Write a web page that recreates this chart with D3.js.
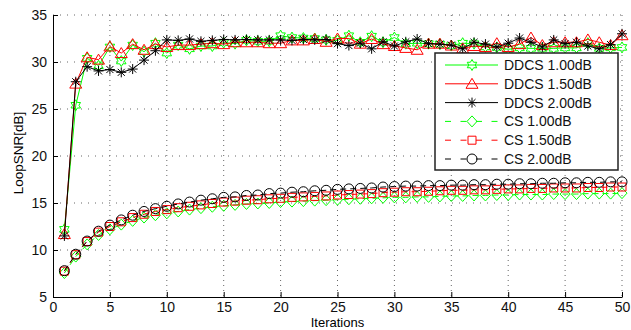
<!DOCTYPE html>
<html>
<head>
<meta charset="utf-8">
<script src="https://d3js.org/d3.v7.min.js"></script>
<style>
  body { margin: 0; background: #fff; }
  text { font-family: "Liberation Sans", Arial, sans-serif; }
</style>
</head>
<body>
<script>
var iterations = d3.range(1, 51);

var ddcs100 = [12.2, 25.4, 30.4, 29.6, 31.6, 30.1, 31.8, 31.1, 32.0, 30.95,
               31.8, 31.4, 31.7, 31.7, 32.05, 31.95, 32.3, 32.2, 32.2, 32.8,
               32.6, 32.55, 32.5, 32.35, 32.3, 32.8, 32.1, 32.75, 32.1, 32.6,
               31.95, 32.0, 31.95, 31.9, 31.75, 32.0, 31.95, 31.6, 31.55, 31.35,
               31.5, 31.45, 31.45, 31.45, 31.5, 31.5, 32.0, 31.45, 31.5, 31.55];
var ddcs150 = [11.7, 27.7, 30.5, 30.25, 31.65, 30.95, 31.9, 31.3, 31.9, 31.6,
               31.8, 31.8, 31.9, 32.0, 31.9, 32.1, 32.1, 32.1, 32.0, 32.0,
               32.3, 32.3, 32.45, 32.15, 32.5, 32.5, 31.95, 32.45, 31.9, 31.7,
               31.5, 31.3, 31.95, 31.95, 31.75, 31.45, 31.7, 31.6, 32.0, 31.6,
               31.9, 32.6, 31.8, 32.1, 32.1, 32.1, 32.4, 32.1, 31.8, 32.85];
var ddcs200 = [11.5, 27.9, 29.5, 29.05, 29.2, 28.9, 29.25, 30.2, 31.2, 32.35,
               32.3, 32.45, 32.2, 32.3, 32.4, 32.35, 32.4, 32.35, 32.35, 32.35,
               32.3, 32.4, 32.35, 32.4, 31.95, 31.75, 32.0, 31.4, 32.15, 31.7,
               32.15, 32.45, 31.95, 31.9, 31.8, 31.4, 32.1, 31.9, 31.6, 32.0,
               32.55, 32.1, 31.6, 32.35, 31.95, 32.1, 31.7, 31.4, 31.85, 33.0];
var cs100 = [7.55, 9.3, 10.6, 11.6, 12.2, 12.7, 13.1, 13.45, 13.7, 13.9,
             14.1, 14.3, 14.45, 14.6, 14.7, 14.8, 14.9, 14.95, 15.0, 15.1,
             15.15, 15.2, 15.25, 15.3, 15.35, 15.4, 15.45, 15.5, 15.55, 15.6,
             15.6, 15.65, 15.65, 15.7, 15.75, 15.75, 15.8, 15.8, 15.85, 15.85,
             15.9, 15.9, 15.9, 15.95, 15.95, 15.95, 16.0, 16.0, 16.0, 16.05];
var cs150 = [7.75, 9.5, 10.9, 11.9, 12.5, 13.0, 13.45, 13.8, 14.1, 14.3,
             14.5, 14.65, 14.8, 14.95, 15.1, 15.2, 15.3, 15.35, 15.45, 15.5,
             15.6, 15.65, 15.7, 15.75, 15.85, 15.9, 15.95, 16.0, 16.1, 16.15,
             16.2, 16.2, 16.25, 16.3, 16.35, 16.35, 16.4, 16.4, 16.45, 16.5,
             16.5, 16.55, 16.55, 16.6, 16.6, 16.6, 16.65, 16.65, 16.7, 16.7];
var cs200 = [7.8, 9.55, 10.95, 12.0, 12.65, 13.2, 13.7, 14.1, 14.4, 14.65,
             14.9, 15.1, 15.3, 15.45, 15.6, 15.65, 15.8, 15.85, 16.0, 16.05,
             16.15, 16.2, 16.3, 16.35, 16.45, 16.5, 16.55, 16.6, 16.7, 16.75,
             16.8, 16.8, 16.85, 16.85, 16.9, 16.9, 16.95, 16.95, 17.0, 17.0,
             17.05, 17.05, 17.1, 17.1, 17.15, 17.15, 17.2, 17.2, 17.25, 17.25];

var xTicks = [0, 5, 10, 15, 20, 25, 30, 35, 40, 45, 50];
var yTicks = [5, 10, 15, 20, 25, 30, 35];

var series = [
  {name: "DDCS 1.00dB", values: ddcs100, color: "#00ff00", dash: null, marker: "hexagram"},
  {name: "DDCS 1.50dB", values: ddcs150, color: "#ff0000", dash: null, marker: "triangle"},
  {name: "DDCS 2.00dB", values: ddcs200, color: "#000000", dash: null, marker: "asterisk"},
  {name: "CS 1.00dB", values: cs100, color: "#00ff00", dash: "6,4", marker: "diamond"},
  {name: "CS 1.50dB", values: cs150, color: "#ff0000", dash: "6,4", marker: "square"},
  {name: "CS 2.00dB", values: cs200, color: "#000000", dash: "6,4", marker: "circle"}
];

var W = 631, H = 330;
var svg = d3.select("body").append("svg").attr("width", W).attr("height", H);

var x = d3.scaleLinear().domain([0, 50]).range([53, 622]);
var y = d3.scaleLinear().domain([5, 35]).range([297, 15]);

// grid (dotted)
svg.append("g").selectAll("line").data(xTicks.slice(1)).enter().append("line")
  .attr("x1", function(d){ return x(d); }).attr("x2", function(d){ return x(d); })
  .attr("y1", y(35)).attr("y2", y(5))
  .attr("stroke", "#666").attr("stroke-width", 1).attr("stroke-dasharray", "1,4");
svg.append("g").selectAll("line").data(yTicks.slice(1)).enter().append("line")
  .attr("x1", x(0)).attr("x2", x(50))
  .attr("y1", function(d){ return y(d); }).attr("y2", function(d){ return y(d); })
  .attr("stroke", "#666").attr("stroke-width", 1).attr("stroke-dasharray", "1,6");

// axes
var xAxis = d3.axisBottom(x).tickValues(xTicks).tickSizeInner(-5).tickSizeOuter(0).tickPadding(5);
var yAxis = d3.axisLeft(y).tickValues(yTicks).tickSizeInner(-5).tickSizeOuter(0).tickPadding(6);
var gx = svg.append("g").attr("transform", "translate(0," + y(5) + ")").call(xAxis);
var gy = svg.append("g").attr("transform", "translate(" + x(0) + ",0)").call(yAxis);
[gx, gy].forEach(function(g) {
  g.select(".domain").attr("stroke", "#000").attr("stroke-width", 1);
  g.selectAll(".tick line").attr("stroke", "#000");
  g.selectAll(".tick text").attr("font-size", 14).attr("fill", "#111")
    .style("font-family", "'Liberation Sans', Arial, sans-serif");
});

svg.append("text").attr("x", (x(0) + x(50)) / 2).attr("y", 327)
  .attr("text-anchor", "middle").attr("font-size", 13).text("Iterations");
svg.append("text").attr("transform", "translate(23,153) rotate(-90)")
  .attr("text-anchor", "middle").attr("font-size", 13.5).text("LoopSNR[dB]");

// markers
function markerPath(type) {
  var p = d3.path();
  if (type === "hexagram") {
    var R = 5.5, r = R / Math.sqrt(3);
    for (var k = 0; k < 12; k++) {
      var a = -Math.PI / 2 + k * Math.PI / 6;
      var rr = k % 2 === 0 ? R : r;
      if (k === 0) p.moveTo(rr * Math.cos(a), rr * Math.sin(a));
      else p.lineTo(rr * Math.cos(a), rr * Math.sin(a));
    }
    p.closePath();
  } else if (type === "triangle") {
    p.moveTo(0, -5.5); p.lineTo(6, 4.5); p.lineTo(-6, 4.5); p.closePath();
  } else if (type === "asterisk") {
    var s = 5, t = s * 0.707;
    p.moveTo(-s, 0); p.lineTo(s, 0);
    p.moveTo(0, -s); p.lineTo(0, s);
    p.moveTo(-t, -t); p.lineTo(t, t);
    p.moveTo(-t, t); p.lineTo(t, -t);
  } else if (type === "diamond") {
    p.moveTo(0, -5.5); p.lineTo(5, 0); p.lineTo(0, 5.5); p.lineTo(-5, 0); p.closePath();
  } else if (type === "square") {
    p.rect(-4, -4, 8, 8);
  } else if (type === "circle") {
    p.arc(0, 0, 5, 0, 2 * Math.PI); p.closePath();
  }
  return p.toString();
}

var line = d3.line()
  .x(function(d, i){ return x(iterations[i]); })
  .y(function(d){ return y(d); });

series.forEach(function(s) {
  var g = svg.append("g");
  g.append("path").datum(s.values).attr("d", line)
    .attr("fill", "none").attr("stroke", s.color).attr("stroke-width", 1)
    .attr("stroke-dasharray", s.dash);
  g.selectAll("path.m").data(s.values).enter().append("path").attr("class", "m")
    .attr("transform", function(d, i){ return "translate(" + x(iterations[i]) + "," + y(d) + ")"; })
    .attr("d", markerPath(s.marker))
    .attr("fill", "none").attr("stroke", s.color).attr("stroke-width", 1);
});

// legend
var lg = svg.append("g");
lg.append("rect").attr("x", 435).attr("y", 53).attr("width", 183).attr("height", 117)
  .attr("fill", "#fff").attr("stroke", "#222").attr("stroke-width", 1.5);
series.forEach(function(s, i) {
  var yy = 65 + i * 18.8;
  lg.append("line").attr("x1", 445).attr("x2", 498).attr("y1", yy).attr("y2", yy)
    .attr("stroke", s.color).attr("stroke-width", 1)
    .attr("stroke-dasharray", s.dash ? "6,9.5" : null);
  lg.append("path").attr("transform", "translate(472," + yy + ")")
    .attr("d", markerPath(s.marker)).attr("fill", "none")
    .attr("stroke", s.color).attr("stroke-width", 1);
  lg.append("text").attr("x", 504).attr("y", yy).attr("dy", "0.36em")
    .attr("font-size", 14).attr("fill", "#111").text(s.name);
});
</script>
</body>
</html>
